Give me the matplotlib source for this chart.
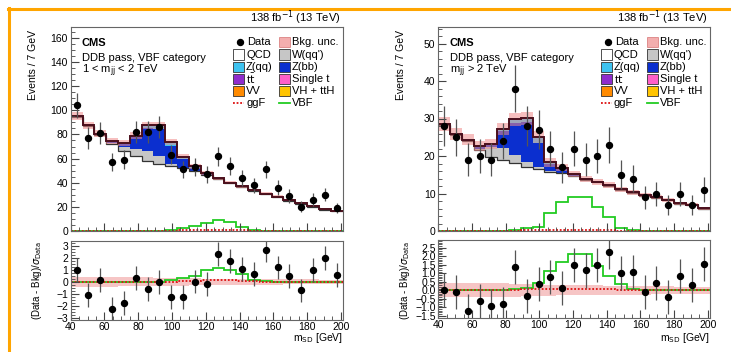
import numpy as np
import matplotlib.pyplot as plt
from matplotlib.lines import Line2D
from matplotlib.patches import Rectangle
from matplotlib.ticker import MultipleLocator

plt.rcParams["font.family"] = ["Liberation Sans", "DejaVu Sans"]

W, H = 731, 352

# 7 GeV bins in soft-drop mass
edges = np.arange(40, 202, 7)
centers = edges[:-1] + 3.5

# ---- 1 < mjj < 2 TeV ----
data_lo = [104, 77, 81, 57, 59, 82, 82, 86, 63, 51, 53, 47, 62, 54, 44, 38, 51, 36, 29, 20, 26, 30, 19]
err_lo = [10.2, 8.8, 9.0, 7.5, 7.7, 9.1, 9.1, 9.3, 7.9, 7.1, 7.3, 6.9, 7.9, 7.3, 6.6, 6.2, 7.1, 6.0, 5.4, 4.5, 5.1, 5.5, 4.4]
qcd_lo = [94.4, 86.9, 79.9, 72.4, 66.4, 61.9, 58.4, 55.9, 53.9, 51.9, 49.9, 46.8, 42.9, 39.4, 36.4, 33.4, 30.4, 27.9, 25.1, 22.4, 20.1, 17.7, 16.2]
wqq_lo = [0, 0, 0, 0.5, 3.0, 6.0, 8.0, 6.5, 1.5, 0.5, 0.2, 0, 0, 0, 0, 0, 0, 0, 0, 0, 0, 0, 0]
zbb_lo = [0, 0, 0, 1.0, 3.0, 10.0, 19.0, 22.0, 15.0, 7.5, 2.5, 0.6, 0, 0, 0, 0, 0, 0, 0, 0, 0, 0, 0]
zqq_lo = [0, 0, 0, 0, 0, 0.5, 1.5, 2.5, 3.0, 1.0, 0.3, 0, 0, 0, 0, 0, 0, 0, 0, 0, 0, 0, 0]
top_lo = [0.6] * 23
unc_lo = [3.2, 3.0, 2.8, 2.6, 2.6, 2.7, 3.0, 3.0, 2.6, 2.2, 1.9, 1.7, 1.5, 1.4, 1.3, 1.2, 1.1, 1.0, 0.9, 0.85, 0.8, 0.7, 0.7]
vbf_lo = [0, 0, 0, 0, 0, 0, 0, 0.3, 0.8, 2.2, 3.9, 6.8, 8.9, 7.5, 3.6, 1.2, 0.4, 0, 0, 0, 0, 0, 0]
ggf_lo = [0, 0, 0, 0, 0, 0, 0, 0, 0.3, 0.6, 0.9, 1.1, 1.2, 1.0, 0.6, 0.3, 0.1, 0, 0, 0, 0, 0, 0]
pull_lo = [0.95, -1.1, 0.17, -2.3, -1.8, 0.3, -0.6, 0.0, -1.3, -1.27, 0.03, -0.14, 2.29, 1.76, 1.05, 0.63, 2.67, 1.2, 0.5, -0.72, 1.0, 2.0, 0.58]
pvbf_lo = [0, 0, 0, 0, 0, 0, 0, 0.02, 0.15, 0.3, 0.53, 1.0, 1.12, 0.96, 0.66, 0.17, 0.08, 0, 0, 0, 0, 0, 0]
pggf_lo = [0, 0, 0, 0, 0, 0, 0, 0, 0.03, 0.06, 0.1, 0.14, 0.15, 0.14, 0.1, 0.06, 0.03, 0, 0, 0, 0, 0, 0]
punc_lo = [0.4, 0.4, 0.4, 0.4, 0.38, 0.38, 0.38, 0.36, 0.35, 0.32, 0.3, 0.28, 0.26, 0.25, 0.24, 0.23, 0.22, 0.22, 0.21, 0.2, 0.2, 0.19, 0.19]

# ---- mjj > 2 TeV ----
data_hi = [28, 25, 19, 20, 19, 24, 38, 28, 27, 22, 17, 22, 19, 20, 23, 15, 14, 9, 10, 7, 10, 7, 11]
err_hi = [5.3, 5.0, 4.4, 4.5, 4.4, 4.9, 6.2, 5.3, 5.2, 4.7, 4.1, 4.7, 4.4, 4.5, 4.8, 3.9, 3.7, 3.0, 3.2, 2.6, 3.2, 2.6, 3.3]
qcd_hi = [28.25, 25.55, 23.95, 21.55, 19.75, 19.05, 18.15, 17.15, 16.55, 15.85, 15.35, 14.65, 13.65, 12.95, 12.05, 10.95, 10.15, 9.45, 8.85, 8.15, 7.25, 6.85, 5.95]
wqq_hi = [0, 0, 0.1, 0.4, 2.6, 3.0, 2.2, 1.3, 0.6, 0.2, 0.1, 0, 0, 0, 0, 0, 0, 0, 0, 0, 0, 0, 0]
zbb_hi = [0.1, 0.1, 0.2, 0.6, 0.6, 4.5, 8.4, 10.5, 6.2, 1.8, 1.2, 0.4, 0.1, 0, 0, 0, 0, 0, 0, 0, 0, 0, 0]
zqq_hi = [0, 0, 0, 0, 0.1, 0.4, 0.9, 1.0, 1.6, 0.3, 0.1, 0, 0, 0, 0, 0, 0, 0, 0, 0, 0, 0, 0]
top_hi = [0.15] * 23
unc_hi = [1.8, 1.6, 1.5, 1.4, 1.4, 1.6, 1.7, 1.7, 1.5, 1.1, 1.0, 0.9, 0.85, 0.8, 0.75, 0.7, 0.65, 0.6, 0.55, 0.5, 0.45, 0.45, 0.4]
vbf_hi = [0, 0, 0, 0, 0, 0, 0.4, 0.9, 1.2, 4.7, 7.8, 9.0, 9.0, 6.5, 3.8, 0.7, 0.3, 0, 0, 0, 0, 0, 0]
ggf_hi = [0, 0, 0, 0, 0, 0, 0.1, 0.15, 0.2, 0.3, 0.35, 0.35, 0.3, 0.25, 0.15, 0.1, 0, 0, 0, 0, 0, 0, 0]
pull_hi = [0.0, -0.1, -1.24, -0.65, -0.94, -0.78, 1.35, -0.35, 0.35, 0.78, 0.12, 1.5, 1.16, 1.5, 2.27, 1.04, 1.06, -0.1, 0.45, -0.37, 0.86, 0.29, 1.53]
pvbf_hi = [0, 0, 0, 0, 0, 0, 0.05, 0.16, 0.4, 1.14, 1.67, 2.1, 2.1, 1.43, 0.82, 0.35, 0.05, 0, 0, 0, 0, 0, 0]
pggf_hi = [0, 0, 0, 0, 0, 0, 0.03, 0.05, 0.06, 0.07, 0.08, 0.08, 0.07, 0.06, 0.05, 0.03, 0, 0, 0, 0, 0, 0, 0]
punc_hi = [0.4, 0.4, 0.4, 0.4, 0.4, 0.4, 0.38, 0.36, 0.34, 0.32, 0.3, 0.3, 0.28, 0.28, 0.27, 0.26, 0.25, 0.25, 0.24, 0.23, 0.22, 0.22, 0.2]

C_W = "#c6c6c6"
C_ZQQ = "#3ec3f0"
C_ZBB = "#0b2fcf"
C_TT = "#8f2ccc"
C_ST = "#ff5fc8"
C_VV = "#ff8a00"
C_VH = "#ffc400"
C_UNC = "#ef8c8c"
C_TOT = "#4a0f1c"
C_VBF = "#22cc22"
C_GGF = "#dd1111"


def px_rect(x0, y0, x1, y1):
    return [x0 / W, 1 - y1 / H, (x1 - x0) / W, (y1 - y0) / H]


def style_axes(ax):
    for s in ax.spines.values():
        s.set_color("#666666")
        s.set_linewidth(0.8)
    ax.tick_params(which="both", direction="in", top=False, right=False,
                   labelsize=7.5, color="#444444", pad=2)
    ax.tick_params(which="major", length=6)
    ax.tick_params(which="minor", length=3)
    ax.xaxis.set_major_locator(MultipleLocator(20))
    ax.xaxis.set_minor_locator(MultipleLocator(5))
    ax.set_xlim(40, 201)


def draw_upper(ax, data, err, qcd, wqq, zbb, zqq, top, unc, vbf, ggf, ymax, major, minor):
    q = np.array(qcd)
    w = q + np.array(wqq)
    zb = w + np.array(zbb)
    zq = zb + np.array(zqq)
    tot = zq + np.array(top)
    unc = np.array(unc)
    ax.stairs(q, edges, baseline=0, fill=True, color="white")
    ax.stairs(w, edges, baseline=q, fill=True, color=C_W)
    ax.stairs(zb, edges, baseline=w, fill=True, color=C_ZBB)
    ax.stairs(zq, edges, baseline=zb, fill=True, color=C_ZQQ)
    ax.stairs(tot, edges, baseline=zq, fill=True, color=C_TT)
    ax.stairs(q, edges, baseline=None, color="#333333", lw=0.9)
    ax.stairs(tot + unc, edges, baseline=tot - unc, fill=True, color=C_UNC, alpha=0.55, lw=0)
    ax.stairs(tot, edges, baseline=None, color=C_TOT, lw=1.4)
    ax.stairs(vbf, edges, baseline=None, color=C_VBF, lw=1.3)
    ax.stairs(ggf, edges, baseline=None, color=C_GGF, lw=1.3, ls=(0, (1, 1)))
    ax.errorbar(centers, data, yerr=err, fmt="o", color="black", ms=4.3,
                ecolor="#555555", elinewidth=0.9, capsize=0)
    style_axes(ax)
    ax.set_ylim(0, ymax)
    ax.yaxis.set_major_locator(MultipleLocator(major))
    ax.yaxis.set_minor_locator(MultipleLocator(minor))
    ax.tick_params(axis="x", labelbottom=False)


def draw_lower(ax, pull, pvbf, pggf, punc, ylim, major, minor):
    punc = np.array(punc)
    ax.stairs(punc, edges, baseline=-punc, fill=True, color=C_UNC, alpha=0.5, lw=0)
    ax.stairs(pvbf, edges, baseline=None, color=C_VBF, lw=1.3)
    ax.stairs(pggf, edges, baseline=None, color=C_GGF, lw=1.3, ls=(0, (1, 1)))
    ax.errorbar(centers, pull, yerr=1.0, fmt="o", color="black", ms=4.3,
                ecolor="#555555", elinewidth=0.9, capsize=0)
    style_axes(ax)
    ax.set_ylim(*ylim)
    ax.yaxis.set_major_locator(MultipleLocator(major))
    ax.yaxis.set_minor_locator(MultipleLocator(minor))


def fig_text(fig, x, y, s, **kw):
    fig.text(x / W, 1 - y / H, s, **kw)


def draw_legend(fig, dx):
    rows = [42, 54.5, 67, 79, 91, 103.5]
    c1, c2 = 233 + dx, 279 + dx
    bw, bh = 11, 10
    fs = 8

    def box(x, y, color, edge="#333333", alpha=1.0):
        fig.add_artist(Rectangle((x / W, 1 - (y + bh / 2) / H), bw / W, bh / H,
                                 transform=fig.transFigure, facecolor=color,
                                 edgecolor=edge, lw=0.6, alpha=alpha))

    # data marker
    fig.add_artist(Line2D([(c1 + 7) / W], [1 - rows[0] / H], transform=fig.transFigure,
                          marker="o", ms=4.3, color="black"))
    fig_text(fig, c1 + 14, rows[0], "Data", fontsize=fs, va="center")
    box(c2, rows[0], C_UNC, edge="#d06060", alpha=0.7)
    fig_text(fig, c2 + 13, rows[0], "Bkg. unc.", fontsize=fs, va="center")

    items = [("QCD", "white", "W(qq')", C_W),
             ("Z(qq)", C_ZQQ, "Z(bb)", C_ZBB),
             (r"t$\bar{\rm t}$", C_TT, "Single t", C_ST),
             ("VV", C_VV, "VH + ttH", C_VH)]
    for i, (l1, col1, l2, col2) in enumerate(items):
        y = rows[i + 1]
        box(c1, y, col1)
        fig_text(fig, c1 + 13, y, l1, fontsize=fs, va="center")
        box(c2, y, col2)
        fig_text(fig, c2 + 13, y, l2, fontsize=fs, va="center")

    y = rows[5]
    fig.add_artist(Line2D([c1 / W, (c1 + bw) / W], [1 - y / H] * 2, transform=fig.transFigure,
                          color=C_GGF, lw=1.3, ls=(0, (1, 1))))
    fig_text(fig, c1 + 13, y, "ggF", fontsize=fs, va="center")
    fig.add_artist(Line2D([c2 / W, (c2 + bw) / W], [1 - y / H] * 2, transform=fig.transFigure,
                          color=C_VBF, lw=1.3))
    fig_text(fig, c2 + 13, y, "VBF", fontsize=fs, va="center")


def draw_labels(fig, dx, right, mjj_text):
    fig_text(fig, right - 2, 18, r"138 fb$^{-1}$ (13 TeV)", fontsize=8, ha="right", va="center")
    fig_text(fig, 82 + dx, 42.5, "CMS", fontsize=8, weight="bold", va="center")
    fig_text(fig, 82 + dx, 58, "DDB pass, VBF category", fontsize=8, va="center")
    fig_text(fig, 82 + dx, 70.5, mjj_text, fontsize=8, va="center")
    fig_text(fig, 33 + dx, 30, "Events / 7 GeV", fontsize=7.5, rotation=90, ha="center", va="top")
    fig_text(fig, 37 + dx, 280, r"(Data - Bkg)/$\sigma_{\rm Data}$", fontsize=7,
             rotation=90, ha="center", va="center")
    fig_text(fig, right, 338, r"m$_{\rm SD}$ [GeV]", fontsize=7.5, ha="right", va="center")


def main():
    fig = plt.figure(figsize=(W / 100, H / 100), dpi=100)

    ax1 = fig.add_axes(px_rect(70.7, 27, 342.5, 231))
    ax2 = fig.add_axes(px_rect(70.7, 241, 342.5, 319.5))
    draw_upper(ax1, data_lo, err_lo, qcd_lo, wqq_lo, zbb_lo, zqq_lo, top_lo, unc_lo,
               vbf_lo, ggf_lo, 169, 20, 5)
    draw_lower(ax2, pull_lo, pvbf_lo, pggf_lo, punc_lo, (-3.14, 3.41), 1, 0.25)

    ax3 = fig.add_axes(px_rect(438.3, 27, 709.5, 231))
    ax4 = fig.add_axes(px_rect(438.3, 240, 709.5, 317.5))
    draw_upper(ax3, data_hi, err_hi, qcd_hi, wqq_hi, zbb_hi, zqq_hi, top_hi, unc_hi,
               vbf_hi, ggf_hi, 54.4, 10, 2)
    draw_lower(ax4, pull_hi, pvbf_hi, pggf_hi, punc_hi, (-1.6, 2.95), 0.5, 0.1)

    draw_legend(fig, 0)
    draw_legend(fig, 368)
    draw_labels(fig, 0, 342.5, r"1 < m$_{\rm jj}$ < 2 TeV")
    draw_labels(fig, 368, 709.5, r"m$_{\rm jj}$ > 2 TeV")

    # orange frame
    fig.add_artist(Line2D([8 / W, 1], [1 - 8.5 / H] * 2, transform=fig.transFigure,
                          color="#ffa500", lw=2.2))
    fig.add_artist(Line2D([8.5 / W] * 2, [0, 1 - 8 / H], transform=fig.transFigure,
                          color="#ffa500", lw=2.2))

    fig.savefig("out.png", dpi=100)


if __name__ == "__main__":
    main()
